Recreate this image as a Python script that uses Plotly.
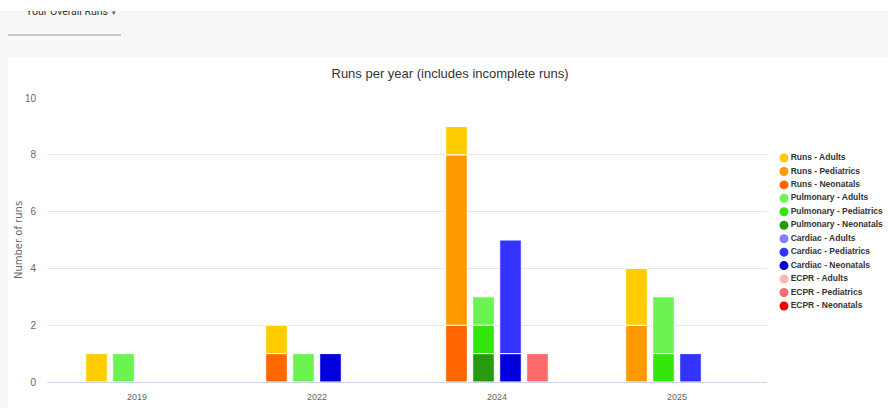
import plotly.graph_objects as go

# ---------------- data ----------------
years = ["2019", "2022", "2024", "2025"]
stacks = ["Runs", "Pulmonary", "Cardiac", "ECPR"]
ages = ["Adults", "Pediatrics", "Neonatals"]

runs_adults = [1, 1, 1, 2]
runs_pediatrics = [0, 0, 6, 2]
runs_neonatals = [0, 1, 2, 0]
pulmonary_adults = [1, 1, 1, 2]
pulmonary_pediatrics = [0, 0, 1, 1]
pulmonary_neonatals = [0, 0, 1, 0]
cardiac_adults = [0, 0, 0, 0]
cardiac_pediatrics = [0, 0, 4, 1]
cardiac_neonatals = [0, 1, 1, 0]
ecpr_adults = [0, 0, 0, 0]
ecpr_pediatrics = [0, 0, 1, 0]
ecpr_neonatals = [0, 0, 0, 0]

values = {
    ("Runs", "Adults"): runs_adults,
    ("Runs", "Pediatrics"): runs_pediatrics,
    ("Runs", "Neonatals"): runs_neonatals,
    ("Pulmonary", "Adults"): pulmonary_adults,
    ("Pulmonary", "Pediatrics"): pulmonary_pediatrics,
    ("Pulmonary", "Neonatals"): pulmonary_neonatals,
    ("Cardiac", "Adults"): cardiac_adults,
    ("Cardiac", "Pediatrics"): cardiac_pediatrics,
    ("Cardiac", "Neonatals"): cardiac_neonatals,
    ("ECPR", "Adults"): ecpr_adults,
    ("ECPR", "Pediatrics"): ecpr_pediatrics,
    ("ECPR", "Neonatals"): ecpr_neonatals,
}

colors = {
    ("Runs", "Adults"): "#FFCC00",
    ("Runs", "Pediatrics"): "#FF9900",
    ("Runs", "Neonatals"): "#FF6600",
    ("Pulmonary", "Adults"): "#6BF352",
    ("Pulmonary", "Pediatrics"): "#33E60D",
    ("Pulmonary", "Neonatals"): "#279A10",
    ("Cardiac", "Adults"): "#8080FF",
    ("Cardiac", "Pediatrics"): "#3333FF",
    ("Cardiac", "Neonatals"): "#0000DD",
    ("ECPR", "Adults"): "#FFB6B6",
    ("ECPR", "Pediatrics"): "#FF6A6A",
    ("ECPR", "Neonatals"): "#FF0000",
}

title_text = "Runs per year (includes incomplete runs)"
y_title = "Number of runs"
dropdown_text = "Your Overall Runs"
dropdown_arrow = "\u25BE"

# ---------------- geometry (pixels) ----------------
W, H = 888, 408
ML, MR, MT, MB = 47, 0, 98, 26
PLOT_R = 767          # right edge of bar plot area
LEG_L = 779           # left edge of legend column
pw = W - ML - MR
ph = H - MT - MB


def px_x(px):
    return (px - ML) / pw


def px_y(py):
    return (H - MB - py) / ph


FONT = "Liberation Sans, Arial, sans-serif"

fig = go.Figure()

# stacked bars in groups: bottom Neonatals -> Pediatrics -> Adults on top
for s in stacks:
    cum = [0] * len(years)
    for a in reversed(ages):
        vals = values[(s, a)]
        yv = [v if v else None for v in vals]
        fig.add_trace(go.Bar(
            x=years, y=yv, base=cum[:], offsetgroup=s,
            name=f"{s} - {a}", showlegend=False,
            marker=dict(color=colors[(s, a)], line=dict(color="white", width=1)),
            hovertemplate=f"{s} - {a}: %{{y}}<extra></extra>",
            xaxis="x", yaxis="y",
        ))
        cum = [c + v for c, v in zip(cum, vals)]

# custom legend column (circle symbols, tight spacing)
leg_names = [f"{s} - {a}" for s in stacks for a in ages]
leg_colors = [colors[(s, a)] for s in stacks for a in ages]
leg_idx = list(range(len(leg_names)))
fig.add_trace(go.Scatter(
    x=[5] * len(leg_names), y=leg_idx, mode="markers+text",
    text=leg_names, textposition="middle right",
    textfont=dict(family=FONT, size=8.5, color="#333333", weight="bold"),
    marker=dict(symbol="circle", size=9, color=leg_colors),
    showlegend=False, hoverinfo="skip", xaxis="x2", yaxis="y2", cliponaxis=False,
))

step = 13.45
r0 = -(158 - MT) / step
r1 = r0 + ph / step

fig.update_layout(
    width=W, height=H,
    margin=dict(l=ML, r=MR, t=MT, b=MB),
    paper_bgcolor="#f7f7f7",
    plot_bgcolor="rgba(0,0,0,0)",
    barmode="group",
    bargap=0.4,
    bargroupgap=0.2,
    showlegend=False,
    title=dict(text=title_text, x=450 / W, xref="container", y=1 - 73 / H,
               yref="container", xanchor="center", yanchor="middle",
               font=dict(family=FONT, size=13, color="#333333")),
    xaxis=dict(
        domain=[0, px_x(PLOT_R)], type="category", categoryorder="array",
        categoryarray=years, showgrid=False, zeroline=False,
        showline=True, linecolor="#ccd6eb", linewidth=1,
        ticks="outside", ticklen=6, tickcolor="rgba(0,0,0,0)",
        tickfont=dict(family=FONT, size=9, color="#666666"),
        fixedrange=True,
    ),
    yaxis=dict(
        range=[0, 10], dtick=2, showgrid=True, gridcolor="#e6e6e6", gridwidth=1,
        zeroline=False, showline=False,
        ticks="outside", ticklen=8, tickcolor="rgba(0,0,0,0)",
        tickfont=dict(family=FONT, size=10, color="#666666"),
        title=dict(text=y_title, font=dict(family="DejaVu Sans", size=10, color="#666666"),
                   standoff=0),
        fixedrange=True,
    ),
    xaxis2=dict(domain=[px_x(LEG_L), 1], range=[0, W - LEG_L], visible=False,
                fixedrange=True),
    yaxis2=dict(domain=[0, 1], range=[r1, r0], visible=False, anchor="x2",
                fixedrange=True),
)

# page decorations: white card, dropdown underline
fig.add_shape(type="rect", xref="paper", yref="paper",
              x0=px_x(8), x1=px_x(W + 10), y0=px_y(H + 10), y1=px_y(57),
              fillcolor="white", line=dict(width=0), layer="below")
fig.add_shape(type="line", xref="paper", yref="paper",
              x0=px_x(8), x1=px_x(121), y0=px_y(35), y1=px_y(35),
              line=dict(color="#9a9a9a", width=1))

fig.add_annotation(text=dropdown_text, xref="paper", yref="paper",
                   x=px_x(24), y=px_y(12), xanchor="left", yanchor="middle",
                   showarrow=False,
                   font=dict(family="Roboto, sans-serif", size=10.5, color="#333333"))
fig.add_annotation(text=dropdown_arrow, xref="paper", yref="paper",
                   x=px_x(114), y=px_y(13), xanchor="center", yanchor="middle",
                   showarrow=False,
                   font=dict(family="DejaVu Sans, sans-serif", size=7, color="#555555"))
# white strip at the very top that hides the upper part of the dropdown label
fig.add_annotation(text=" ", xref="paper", yref="paper",
                   x=px_x(-5), y=px_y(-2), xanchor="left", yanchor="top",
                   width=W + 20, height=13, bgcolor="white", borderpad=0,
                   borderwidth=0, showarrow=False)

fig.write_html("out.html")
